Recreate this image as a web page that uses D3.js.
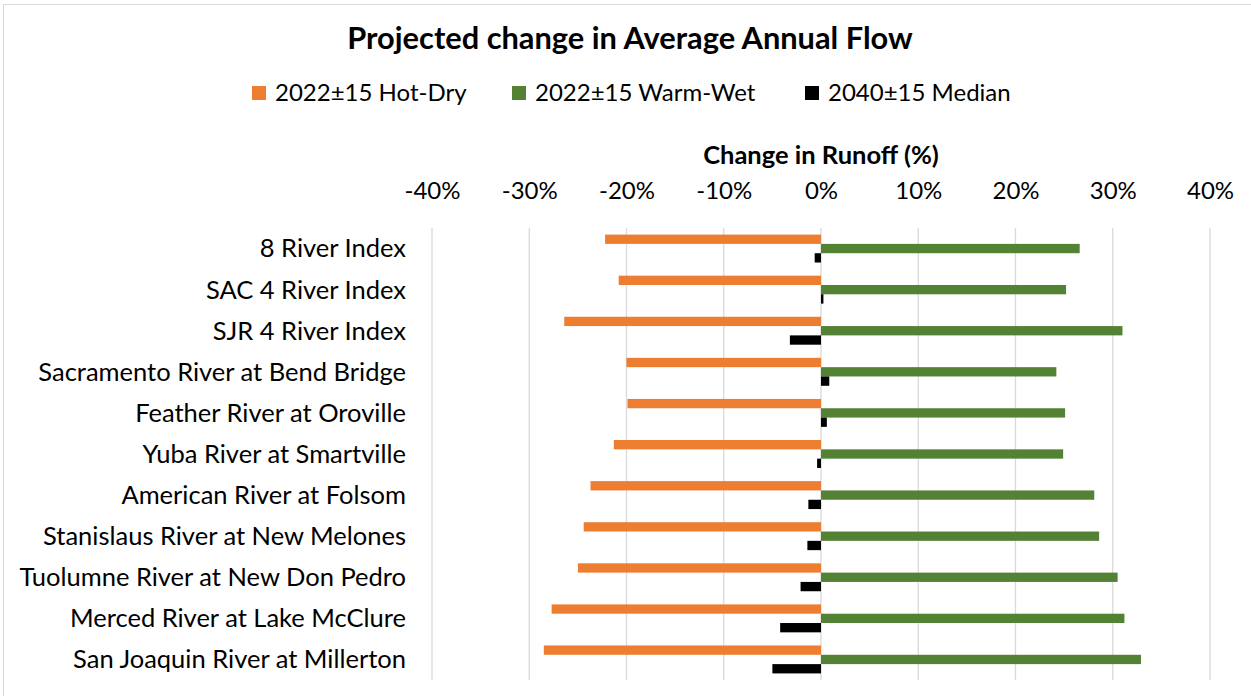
<!DOCTYPE html>
<html>
<head>
<meta charset="utf-8">
<script src="https://cdn.jsdelivr.net/npm/d3@7"></script>
<style>
  body { margin: 0; background: #fff; }
  text { font-family: Lato, "Open Sans", sans-serif; fill: #000; }
</style>
</head>
<body>
<svg width="1251" height="696"></svg>
<script>
// categories, top to bottom
var categories = ["8 River Index", "SAC 4 River Index", "SJR 4 River Index",
  "Sacramento River at Bend Bridge", "Feather River at Oroville", "Yuba River at Smartville",
  "American River at Folsom", "Stanislaus River at New Melones", "Tuolumne River at New Don Pedro",
  "Merced River at Lake McClure", "San Joaquin River at Millerton"];

var seriesNames = ["2022\u00b115 Hot-Dry", "2022\u00b115 Warm-Wet", "2040\u00b115 Median"];
var hotDry   = [-22.2, -20.8, -26.4, -20.0, -19.9, -21.3, -23.7, -24.4, -25.0, -27.7, -28.5];
var warmWet  = [26.6, 25.2, 31.0, 24.2, 25.1, 24.9, 28.1, 28.6, 30.5, 31.2, 32.9];
var median   = [-0.65, 0.25, -3.2, 0.85, 0.6, -0.4, -1.3, -1.4, -2.1, -4.2, -5.0];
var ticks = [-40, -30, -20, -10, 0, 10, 20, 30, 40];
var colors = ["#ED7D31", "#548235", "#000000"];

var svg = d3.select("svg");
var plotLeft = 432, plotRight = 1210, plotTop = 228, plotBottom = 680;

// frame
svg.append("rect").attr("x", 3.5).attr("y", 4.5).attr("width", 1260).attr("height", 700)
  .attr("fill", "none").attr("stroke", "#d9d9d9");

var x = d3.scaleLinear().domain([-40, 40]).range([plotLeft, plotRight]);
var y = d3.scaleBand().domain(categories).range([plotTop, plotBottom]).paddingInner(0.32).paddingOuter(0.16);
var ySub = d3.scaleBand().domain([0, 1, 2]).range([0, y.bandwidth()]);

// grid
svg.append("g").selectAll("line").data(ticks).enter().append("line")
  .attr("x1", function(d) { return x(d); }).attr("x2", function(d) { return x(d); })
  .attr("y1", plotTop).attr("y2", plotBottom)
  .attr("stroke", "#d9d9d9").attr("stroke-width", 1.3);

// top axis labels
var axis = d3.axisTop(x).tickValues(ticks).tickSize(0).tickPadding(0)
  .tickFormat(function(d) { return d + "%"; });
var ax = svg.append("g").attr("transform", "translate(0,199)").call(axis);
ax.select(".domain").remove();
ax.selectAll("text").style("font-family", "Lato, sans-serif").style("font-size", "24px").attr("fill", "#000");

// category labels
svg.append("g").selectAll("text").data(categories).enter().append("text")
  .attr("x", 406).attr("y", function(d) { return y(d) + y.bandwidth() / 2; })
  .attr("dy", "0.35em").attr("text-anchor", "end").style("font-size", "25.5px")
  .text(function(d) { return d; });

// bars
var data = [hotDry, warmWet, median];
data.forEach(function(vals, s) {
  svg.append("g").selectAll("rect").data(vals).enter().append("rect")
    .attr("x", function(d) { return x(Math.min(0, d)); })
    .attr("width", function(d) { return Math.abs(x(d) - x(0)); })
    .attr("y", function(d, i) { return y(categories[i]) + ySub(s); })
    .attr("height", ySub.bandwidth())
    .attr("fill", colors[s]);
});

// title
svg.append("text").attr("x", 630).attr("y", 49).attr("text-anchor", "middle")
  .style("font-size", "30.8px").style("font-weight", "bold")
  .text("Projected change in Average Annual Flow");

// axis title
svg.append("text").attr("x", 821).attr("y", 164).attr("text-anchor", "middle")
  .style("font-size", "25.5px").style("font-weight", "bold")
  .text("Change in Runoff (%)");

// legend
var legX = [252, 512, 805];
var leg = svg.append("g").selectAll("g").data(seriesNames).enter().append("g")
  .attr("transform", function(d, i) { return "translate(" + legX[i] + ",86)"; });
leg.append("rect").attr("width", 14).attr("height", 14)
  .attr("fill", function(d, i) { return colors[i]; });
leg.append("text").attr("x", 23).attr("y", 7).attr("dy", "0.35em")
  .style("font-size", "24px").text(function(d) { return d; });
</script>
</body>
</html>
